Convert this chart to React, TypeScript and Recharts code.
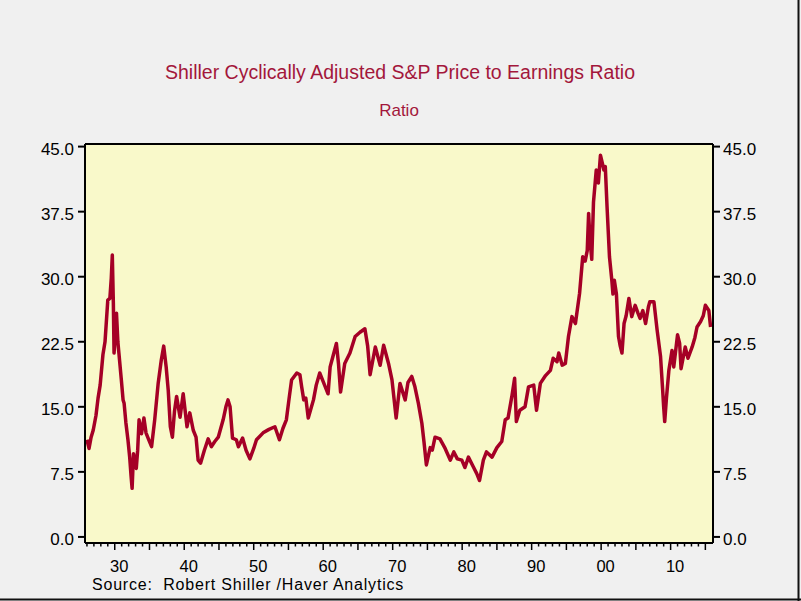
import { CartesianGrid, Line, LineChart, XAxis, YAxis } from 'recharts';

const FONT = '"Liberation Sans", Arial, sans-serif';
const TITLE_RED = '#a3173b';
const LINE_RED = '#a50026';

// fractional years (monthly series thinned out by eye)
const years = [
  1926.0, 1926.3, 1926.6, 1926.9, 1927.3, 1927.6, 1927.9, 1928.3, 1928.6, 1929.0,
  1929.3, 1929.5, 1929.65, 1929.8, 1929.9, 1930.1, 1930.25, 1930.45, 1930.6, 1930.95,
  1931.2, 1931.35, 1931.6, 1931.9, 1932.15, 1932.35, 1932.5, 1932.7, 1932.9, 1933.1,
  1933.3, 1933.5, 1933.85, 1934.2, 1934.5, 1934.9, 1935.3, 1935.75, 1936.25, 1936.7,
  1937.05, 1937.4, 1937.7, 1938.0, 1938.3, 1938.6, 1938.9, 1939.4, 1939.85, 1940.4,
  1940.8, 1941.3, 1941.7, 1942.0, 1942.35, 1942.9, 1943.45, 1943.9, 1944.4, 1944.9,
  1945.6, 1946.0, 1946.3, 1946.6, 1946.95, 1947.5, 1947.8, 1948.4, 1948.9, 1949.45,
  1950.0, 1950.4, 1951.35, 1952.2, 1953.05, 1953.7, 1954.2, 1954.7, 1955.1, 1955.45,
  1956.2, 1956.65, 1956.9, 1957.2, 1957.5, 1957.85, 1958.6, 1959.0, 1959.5, 1959.9,
  1960.3, 1960.7, 1961.0, 1961.4, 1961.9, 1962.2, 1962.5, 1963.1, 1963.85, 1964.6,
  1965.3, 1966.0, 1966.4, 1966.75, 1967.5, 1968.2, 1968.7, 1969.4, 1969.9, 1970.5,
  1971.05, 1971.8, 1972.2, 1972.75, 1973.2, 1973.7, 1974.2, 1974.5, 1974.85, 1975.4,
  1975.7, 1976.1, 1976.8, 1977.55, 1978.3, 1978.8, 1979.3, 1979.95, 1980.4, 1980.9,
  1981.6, 1982.1, 1982.5, 1983.05, 1983.5, 1984.3, 1985.0, 1985.7, 1986.2, 1986.6,
  1987.15, 1987.55, 1987.8, 1988.3, 1989.05, 1989.55, 1990.3, 1990.7, 1991.25, 1992.0,
  1992.7, 1993.1, 1993.65, 1993.9, 1994.4, 1994.85, 1995.3, 1995.8, 1996.3, 1996.9,
  1997.35, 1997.7, 1998.0, 1998.2, 1998.4, 1998.65, 1998.9, 1999.3, 1999.6, 1999.9,
  2000.2, 2000.4, 2000.6, 2000.85, 2001.2, 2001.55, 2001.7, 2001.9, 2002.2, 2002.5,
  2002.75, 2003.0, 2003.3, 2003.6, 2004.0, 2004.4, 2004.9, 2005.3, 2005.6, 2006.0,
  2006.4, 2006.8, 2007.0, 2007.6, 2008.05, 2008.55, 2008.85, 2009.0, 2009.15, 2009.4,
  2009.75, 2010.2, 2010.45, 2011.0, 2011.3, 2011.5, 2012.1, 2012.5, 2013.1, 2013.5,
  2013.8, 2014.3, 2014.7, 2015.0, 2015.5, 2015.75,
];

const cape = [
  11.2, 10.2, 11.5, 12.3, 14.0, 16.0, 17.5, 21.0, 22.5, 27.3,
  27.5, 29.8, 32.5, 27.0, 21.2, 23.5, 25.8, 22.5, 21.2, 18.1,
  15.8, 15.4, 13.2, 11.2, 9.2, 7.0, 5.6, 9.6, 8.8, 7.9,
  10.0, 13.5, 11.9, 13.7, 12.0, 11.2, 10.4, 13.5, 17.7, 20.4,
  22.0, 19.6, 16.9, 12.7, 11.5, 14.5, 16.2, 13.8, 16.5, 12.7,
  14.3, 12.3, 11.5, 8.85, 8.5, 10.0, 11.3, 10.4, 11.0, 11.5,
  13.5, 15.0, 15.8, 15.0, 11.4, 11.2, 10.4, 11.4, 10.0, 9.0,
  10.2, 11.2, 12.0, 12.4, 12.7, 11.2, 12.5, 13.5, 16.0, 18.1,
  18.9, 18.7, 17.3, 15.8, 16.0, 13.7, 15.8, 17.5, 18.9, 18.1,
  17.3, 16.5, 19.6, 20.8, 22.3, 20.0, 16.7, 20.0, 21.2, 23.1,
  23.6, 24.0, 22.0, 18.7, 21.9, 19.8, 22.1, 20.0, 18.1, 13.7,
  17.7, 15.8, 17.8, 18.5, 17.3, 15.4, 13.1, 11.0, 8.3, 10.3,
  10.0, 11.5, 11.3, 10.2, 8.85, 9.8, 9.0, 8.85, 8.0, 9.2,
  8.1, 7.3, 6.5, 8.85, 9.8, 9.2, 10.3, 11.0, 13.5, 13.7,
  16.2, 18.3, 13.3, 14.6, 15.0, 17.3, 17.5, 14.6, 17.7, 18.6,
  19.2, 20.6, 20.2, 21.2, 19.8, 20.0, 23.1, 25.4, 24.6, 28.1,
  32.3, 31.8, 33.0, 37.3, 34.2, 32.0, 38.6, 42.3, 40.8, 44.0,
  43.0, 42.3, 42.7, 38.1, 32.3, 29.5, 28.0, 29.6, 28.0, 23.1,
  22.0, 21.2, 24.6, 25.5, 27.5, 25.4, 26.7, 25.8, 25.2, 26.1,
  24.6, 26.5, 27.1, 27.1, 23.9, 20.8, 17.0, 15.0, 13.3, 16.0,
  19.2, 21.5, 19.6, 23.3, 22.3, 19.4, 21.9, 20.6, 21.9, 23.0,
  24.2, 24.8, 25.5, 26.7, 26.1, 24.2,
];

const yTicks = [0, 7.5, 15, 22.5, 30, 37.5, 45];
const tickYears = Array.from({ length: 90 }, (_, i) => 1926 + i);

const data = years.map((year, i) => ({ year, cape: cape[i] }));

function YearTick({ x, y, payload }: any) {
  const yr = payload.value as number;
  const major = yr % 5 === 0;
  return (
    <g>
      <line x1={x} x2={x} y1={y} y2={y + (major ? 7 : 3.5)} stroke="#000" strokeWidth={1.5} />
      {yr % 10 === 0 && (
        <text x={x + 4.5} y={y + 29} textAnchor="middle" fill="#000" fontSize={16.5} fontFamily={FONT}>
          {String(yr % 100).padStart(2, '0')}
        </text>
      )}
    </g>
  );
}

function RatioTick({ x, y, payload, side }: any) {
  const left = side === 'left';
  return (
    <g>
      <line x1={x} x2={left ? x - 7 : x + 7} y1={y} y2={y} stroke="#000" strokeWidth={2} />
      <text
        x={left ? x - 11 : x + 10}
        y={y + 8}
        textAnchor={left ? 'end' : 'start'}
        fill="#000"
        fontSize={17}
        fontFamily={FONT}
      >
        {(payload.value as number).toFixed(1)}
      </text>
    </g>
  );
}

export default function App() {
  return (
    <div style={{ position: 'absolute', left: 0, top: 0, width: 801, height: 601, background: '#f0f0f0' }}>
      <LineChart width={801} height={601} data={data} margin={{ top: 143, right: 87, bottom: 57, left: 84 }}>
        <CartesianGrid xAxisId="bottom" yAxisId="left" horizontal={false} vertical={false} fill="#f9f9ca" />
        <XAxis
          xAxisId="bottom"
          dataKey="year"
          type="number"
          domain={[1925.72, 2016.1]}
          allowDataOverflow
          ticks={tickYears}
          interval={0}
          height={1}
          tickSize={0}
          tickMargin={0}
          tickLine={false}
          tick={<YearTick />}
          axisLine={{ stroke: '#000', strokeWidth: 2 }}
        />
        <XAxis
          xAxisId="top"
          orientation="top"
          type="number"
          domain={[1925.72, 2016.1]}
          height={1}
          tick={false}
          tickLine={false}
          axisLine={{ stroke: '#000', strokeWidth: 2 }}
        />
        <YAxis
          yAxisId="left"
          domain={[-0.7, 45.3]}
          allowDataOverflow
          ticks={yTicks}
          interval={0}
          width={1}
          tickSize={0}
          tickMargin={0}
          tickLine={false}
          tick={<RatioTick side="left" />}
          axisLine={{ stroke: '#000', strokeWidth: 2 }}
        />
        <YAxis
          yAxisId="right"
          orientation="right"
          domain={[-0.7, 45.3]}
          allowDataOverflow
          ticks={yTicks}
          interval={0}
          width={1}
          tickSize={0}
          tickMargin={0}
          tickLine={false}
          tick={<RatioTick side="right" />}
          axisLine={{ stroke: '#000', strokeWidth: 2 }}
        />
        <Line
          xAxisId="bottom"
          yAxisId="left"
          dataKey="cape"
          stroke={LINE_RED}
          strokeWidth={3.5}
          strokeLinejoin="round"
          dot={false}
          isAnimationActive={false}
        />
      </LineChart>
      <svg width={801} height={601} style={{ position: 'absolute', left: 0, top: 0, pointerEvents: 'none' }}>
        <text x={400} y={79} textAnchor="middle" fill={TITLE_RED} fontSize={19.5} fontFamily={FONT}>
          Shiller Cyclically Adjusted S&amp;P Price to Earnings Ratio
        </text>
        <text x={399} y={116} textAnchor="middle" fill={TITLE_RED} fontSize={17} fontFamily={FONT}>
          Ratio
        </text>
        <text
          x={92}
          y={590}
          fill="#000"
          fontSize={16}
          fontFamily={FONT}
          letterSpacing={0.8}
          style={{ whiteSpace: 'pre' }}
        >
          {'Source:  Robert Shiller /Haver Analytics'}
        </text>
        <line x1={0} x2={801} y1={599.5} y2={599.5} stroke="#111" strokeWidth={2} />
        <line x1={798.5} x2={798.5} y1={0} y2={601} stroke="#111" strokeWidth={2} />
      </svg>
    </div>
  );
}
